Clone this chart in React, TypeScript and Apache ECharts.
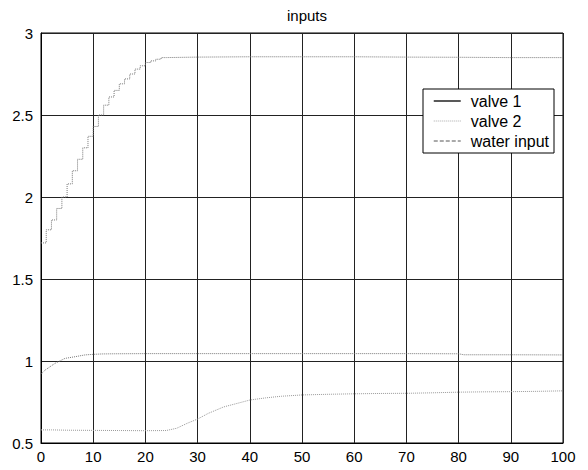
import React, { useEffect, useRef } from "react";
import * as echarts from "echarts";

const xTicks = [0, 10, 20, 30, 40, 50, 60, 70, 80, 90, 100];
const yTicks = [0.5, 1, 1.5, 2, 2.5, 3];

const valve1X = [0, 0.8, 2.7, 4.6, 6.5, 8.4, 9.7, 11.6, 14, 20, 30, 40, 50, 60, 70, 80, 81, 90, 100];
const valve1Y = [0.92, 0.945, 0.986, 1.016, 1.026, 1.037, 1.04, 1.043, 1.044, 1.045, 1.045, 1.045, 1.045, 1.045, 1.045, 1.044, 1.038, 1.038, 1.037];

const valve2X = [0, 2, 5, 10, 15, 20, 24, 26, 28, 30, 32, 35, 38, 40, 43, 46, 50, 55, 60, 65, 70, 75, 80, 85, 90, 95, 100];
const valve2Y = [0.58, 0.58, 0.578, 0.577, 0.576, 0.575, 0.576, 0.59, 0.62, 0.646, 0.68, 0.72, 0.745, 0.762, 0.775, 0.785, 0.793, 0.797, 0.8, 0.802, 0.803, 0.806, 0.81, 0.812, 0.813, 0.815, 0.818];

const waterX = [0, 1, 2, 3, 4, 5, 6, 7, 8, 9, 10, 11, 12, 13, 14, 15, 16, 17, 18, 19, 20, 21, 22, 23, 24, 30, 40, 50, 60, 70, 80, 90, 100];
const waterY = [1.72, 1.8, 1.86, 1.93, 2.0, 2.08, 2.16, 2.23, 2.3, 2.37, 2.43, 2.5, 2.56, 2.61, 2.65, 2.69, 2.72, 2.75, 2.78, 2.8, 2.82, 2.83, 2.84, 2.85, 2.853, 2.855, 2.855, 2.855, 2.853, 2.852, 2.85, 2.85, 2.85];

const seriesNames = ["valve 1", "valve 2", "water input"];

const pairs = (xs: number[], ys: number[]) => xs.map((x, i) => [x, ys[i]]);

export default function App() {
  const ref = useRef<HTMLDivElement>(null);
  useEffect(() => {
    if (!ref.current) return;
    const chart = echarts.init(ref.current, null, { renderer: "svg" });
    const font = "Liberation Sans, Arial, sans-serif";
    chart.setOption({
      animation: false,
      backgroundColor: "#fff",
      title: {
        text: "inputs",
        left: 302,
        textAlign: "center",
        top: 3,
        textStyle: { fontFamily: font, fontSize: 15, fontWeight: "normal", color: "#000" },
      },
      grid: {
        left: 41,
        right: 25,
        top: 33,
        bottom: 27,
        show: true,
        borderColor: "#000",
        borderWidth: 1,
      },
      legend: {
        data: [
          { name: seriesNames[0], lineStyle: { type: "solid", color: "#222", width: 1.5 }, itemStyle: { opacity: 0 } },
          { name: seriesNames[1], lineStyle: { type: "dotted", color: "#aaa", width: 1 }, itemStyle: { opacity: 0 } },
          { name: seriesNames[2], lineStyle: { type: "dashed", color: "#555", width: 1 }, itemStyle: { opacity: 0 } },
        ],
        orient: "vertical",
        left: 423,
        top: 89,
        itemWidth: 27,
        itemHeight: 14,
        itemGap: 4,
        padding: [4, 5, 4, 10],
        borderColor: "#000",
        borderWidth: 1,
        backgroundColor: "#fff",
        itemStyle: { opacity: 0 },
        textStyle: { fontFamily: font, fontSize: 16, color: "#000", padding: [0, 0, 0, 5] },
      },
      xAxis: {
        type: "value",
        min: 0,
        max: 100,
        interval: 10,
        axisLine: { show: true, lineStyle: { color: "#000" } },
        axisTick: { show: false },
        axisLabel: { fontFamily: font, fontSize: 15, color: "#000", margin: 6 },
        splitLine: { show: true, lineStyle: { color: "#222", width: 1 } },
      },
      yAxis: {
        type: "value",
        min: 0.5,
        max: 3,
        interval: 0.5,
        axisLine: { show: true, lineStyle: { color: "#000" } },
        axisTick: { show: false },
        axisLabel: { fontFamily: font, fontSize: 15, color: "#000", margin: 8 },
        splitLine: { show: true, lineStyle: { color: "#222", width: 1 } },
      },
      series: [
        {
          name: seriesNames[0],
          type: "line",
          data: pairs(valve1X, valve1Y),
          showSymbol: false,
          symbol: "none",
          lineStyle: { color: "#777", width: 1, type: "dotted" },
          itemStyle: { color: "#777" },
        },
        {
          name: seriesNames[1],
          type: "line",
          data: pairs(valve2X, valve2Y),
          showSymbol: false,
          symbol: "none",
          lineStyle: { color: "#999", width: 1, type: "dotted" },
          itemStyle: { color: "#999" },
        },
        {
          name: seriesNames[2],
          type: "line",
          step: "end",
          data: pairs(waterX, waterY),
          showSymbol: false,
          symbol: "none",
          lineStyle: { color: "#777", width: 1, type: "dotted" },
          itemStyle: { color: "#777" },
        },
      ],
    });
    return () => chart.dispose();
  }, []);
  return <div ref={ref} style={{ width: 588, height: 470, position: "fixed", left: 0, top: 0 }} />;
}
